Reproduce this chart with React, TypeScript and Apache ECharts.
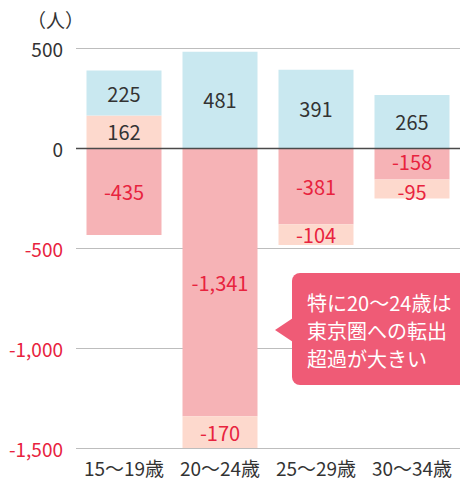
import React, { useEffect, useRef } from "react";
import * as echarts from "echarts";

const categories = ["15～19歳", "20～24歳", "25～29歳", "30～34歳"];
const outflowMain = [-435, -1341, -381, -158];
const peachValues = [162, -170, -104, -95];
const inflowValues = [225, 481, 391, 265];
const yTicks = [-1500, -1000, -500, 0, 500];
const unitLabel = "（人）";
const calloutLines = ["特に20～24歳は", "東京圏への転出", "超過が大きい"];

const FONT = "'Noto Sans CJK JP', 'Noto Sans', sans-serif";
const RED = "#e8233e";
const DARK = "#333333";

const fmt = (v: number) => v.toLocaleString("en-US");

export default function App() {
  const ref = useRef<HTMLDivElement>(null);
  useEffect(() => {
    if (!ref.current) return;
    const chart = echarts.init(ref.current, undefined, { renderer: "svg" });
    const labelFor = (color: string) => ({
      show: true,
      position: "inside" as const,
      fontFamily: FONT,
      fontSize: 20,
      lineHeight: 16,
      formatter: (p: any) => fmt(p.value),
      color,
    });
    const lastIdx = categories.length - 1;
    chart.setOption({
      animation: false,
      grid: { left: 76, right: -2, top: 48, bottom: 40 },
      xAxis: {
        type: "category",
        data: categories,
        axisLine: { show: false, onZero: false },
        axisTick: { show: false },
        axisLabel: { interval: 0, color: DARK, fontFamily: FONT, fontSize: 19, margin: 10 },
      },
      yAxis: {
        type: "value",
        min: yTicks[0],
        max: yTicks[yTicks.length - 1],
        interval: 500,
        axisLine: { show: false },
        axisTick: { show: false },
        splitLine: { lineStyle: { color: "#bdbdbd", width: 1 } },
        axisLabel: {
          fontFamily: FONT,
          fontSize: 19,
          margin: 13,
          formatter: (v: number) => fmt(v),
          color: (v: any) => (Number(v) < 0 ? RED : DARK),
        },
      },
      series: [
        {
          type: "bar",
          stack: "s",
          data: outflowMain.map((v, i) => ({
            value: v,
            label: i === lastIdx ? { offset: [0, -2] } : {},
          })),
          barWidth: 75,
          itemStyle: { color: "#f6b3b6" },
          label: labelFor(RED),
        },
        {
          type: "bar",
          stack: "s",
          data: peachValues.map((v, i) => ({
            value: v,
            label: { color: v < 0 ? RED : DARK, offset: i === lastIdx ? [0, 2] : [0, 0] },
          })),
          barWidth: 75,
          itemStyle: { color: "#fdd9cd" },
          label: labelFor(RED),
        },
        {
          type: "bar",
          stack: "s",
          data: inflowValues,
          barWidth: 75,
          itemStyle: { color: "#c9e8f0" },
          label: labelFor(DARK),
          markLine: {
            silent: true,
            symbol: "none",
            label: { show: false },
            lineStyle: { color: "#4a4a4a", width: 1.3, type: "solid" },
            data: [{ yAxis: 0 }],
          },
        },
      ],
      graphic: [
        {
          type: "text",
          left: 27,
          top: 10,
          z: 100,
          style: { text: unitLabel, fill: DARK, font: `19px ${FONT}` },
        },
        {
          type: "rect",
          z: 100,
          shape: { x: 292, y: 273, width: 185, height: 112, r: 8 },
          style: { fill: "#ef5b76" },
        },
        {
          type: "polygon",
          z: 100,
          shape: { points: [[293, 318], [275, 330], [293, 342]] },
          style: { fill: "#ef5b76" },
        },
        ...calloutLines.map((t, i) => ({
          type: "text",
          z: 101,
          x: 307,
          y: 302 + i * 28,
          style: {
            text: t,
            fill: "#ffffff",
            font: `20px ${FONT}`,
            verticalAlign: "middle",
          },
        })),
      ],
    });
    return () => chart.dispose();
  }, []);
  return (
    <div
      ref={ref}
      style={{ position: "fixed", left: 0, top: 0, width: 460, height: 488, background: "#fff" }}
    />
  );
}
